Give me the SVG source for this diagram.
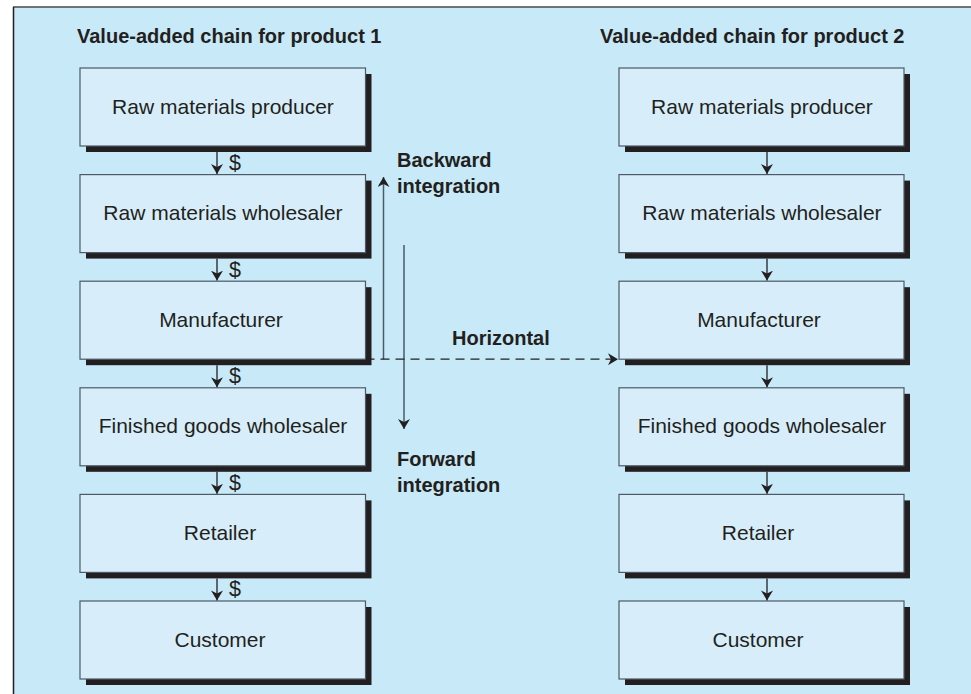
<svg xmlns="http://www.w3.org/2000/svg" width="971" height="694" viewBox="0 0 971 694">
<style>
.panel{fill:#c7e9f8}
.shadow{fill:#231f20}
.box{fill:#d7eefa;stroke:#4b5a64;stroke-width:1.2}
.lbl{font-family:"Liberation Sans",Arial,sans-serif;font-size:21px;fill:#231f20;text-anchor:middle}
.ttl{font-family:"Liberation Sans",Arial,sans-serif;font-size:20px;font-weight:bold;fill:#231f20}
.dol{font-family:"Liberation Sans",Arial,sans-serif;font-size:21.5px;fill:#231f20}
.flow{stroke:#231f20;stroke-width:1.3;fill:none}
.integ{stroke:#4b5a64;stroke-width:1.5;fill:none}
</style>
<defs>
<marker id="ah" viewBox="0 0 10 12" refX="10" refY="6" markerWidth="10" markerHeight="12" markerUnits="userSpaceOnUse" orient="auto">
<path d="M0,0 L10,6 L0,12 L3,6 Z" fill="#231f20"/>
</marker>
</defs>
<rect x="0" y="0" width="971" height="694" fill="#ffffff"/>
<rect class="panel" x="13" y="7" width="958" height="687"/>
<line x1="13" y1="7" x2="971" y2="7" stroke="#4a4a4a" stroke-width="1.5"/>
<line x1="13.5" y1="7" x2="13.5" y2="694" stroke="#231f20" stroke-width="1.5"/>

<text class="ttl" x="77" y="43">Value-added chain for product 1</text>
<text class="ttl" x="600" y="43">Value-added chain for product 2</text>

<g id="l1"><rect class="shadow" x="86" y="74" width="285.5" height="78"/><rect class="box" x="80" y="68" width="285.5" height="78"/><text class="lbl" x="223" y="113.5">Raw materials producer</text></g>
<g id="l2"><rect class="shadow" x="86" y="180.6" width="285.5" height="78"/><rect class="box" x="80" y="174.6" width="285.5" height="78"/><text class="lbl" x="223" y="220.1">Raw materials wholesaler</text></g>
<g id="l3"><rect class="shadow" x="86" y="287.2" width="285.5" height="78"/><rect class="box" x="80" y="281.2" width="285.5" height="78"/><text class="lbl" x="221" y="326.7">Manufacturer</text></g>
<g id="l4"><rect class="shadow" x="86" y="393.8" width="285.5" height="78"/><rect class="box" x="80" y="387.8" width="285.5" height="78"/><text class="lbl" x="223" y="433.3">Finished goods wholesaler</text></g>
<g id="l5"><rect class="shadow" x="86" y="500.4" width="285.5" height="78"/><rect class="box" x="80" y="494.4" width="285.5" height="78"/><text class="lbl" x="220" y="539.9">Retailer</text></g>
<g id="l6"><rect class="shadow" x="86" y="607" width="285.5" height="78"/><rect class="box" x="80" y="601" width="285.5" height="78"/><text class="lbl" x="220" y="646.5">Customer</text></g>

<g id="r1"><rect class="shadow" x="625" y="74" width="285" height="78"/><rect class="box" x="619" y="68" width="285" height="78"/><text class="lbl" x="762" y="113.5">Raw materials producer</text></g>
<g id="r2"><rect class="shadow" x="625" y="180.6" width="285" height="78"/><rect class="box" x="619" y="174.6" width="285" height="78"/><text class="lbl" x="762" y="220.1">Raw materials wholesaler</text></g>
<g id="r3"><rect class="shadow" x="625" y="287.2" width="285" height="78"/><rect class="box" x="619" y="281.2" width="285" height="78"/><text class="lbl" x="759" y="326.7">Manufacturer</text></g>
<g id="r4"><rect class="shadow" x="625" y="393.8" width="285" height="78"/><rect class="box" x="619" y="387.8" width="285" height="78"/><text class="lbl" x="762" y="433.3">Finished goods wholesaler</text></g>
<g id="r5"><rect class="shadow" x="625" y="500.4" width="285" height="78"/><rect class="box" x="619" y="494.4" width="285" height="78"/><text class="lbl" x="758" y="539.9">Retailer</text></g>
<g id="r6"><rect class="shadow" x="625" y="607" width="285" height="78"/><rect class="box" x="619" y="601" width="285" height="78"/><text class="lbl" x="758" y="646.5">Customer</text></g>

<g id="connectors">
<line class="flow" x1="217" y1="152" x2="217" y2="174" marker-end="url(#ah)"/>
<line class="flow" x1="217" y1="258.6" x2="217" y2="280.6" marker-end="url(#ah)"/>
<line class="flow" x1="217" y1="365.2" x2="217" y2="387.2" marker-end="url(#ah)"/>
<line class="flow" x1="217" y1="471.8" x2="217" y2="493.8" marker-end="url(#ah)"/>
<line class="flow" x1="217" y1="578.4" x2="217" y2="600.4" marker-end="url(#ah)"/>
<line class="flow" x1="767" y1="152" x2="767" y2="174" marker-end="url(#ah)"/>
<line class="flow" x1="767" y1="258.6" x2="767" y2="280.6" marker-end="url(#ah)"/>
<line class="flow" x1="767" y1="365.2" x2="767" y2="387.2" marker-end="url(#ah)"/>
<line class="flow" x1="767" y1="471.8" x2="767" y2="493.8" marker-end="url(#ah)"/>
<line class="flow" x1="767" y1="578.4" x2="767" y2="600.4" marker-end="url(#ah)"/>
<text class="dol" x="229" y="170">$</text>
<text class="dol" x="229" y="276.6">$</text>
<text class="dol" x="229" y="383.2">$</text>
<text class="dol" x="229" y="489.8">$</text>
<text class="dol" x="229" y="596.4">$</text>
<polyline class="integ" points="383.5,359.2 383.5,177" marker-end="url(#ah)"/>
<line class="integ" x1="404" y1="245" x2="404" y2="429" marker-end="url(#ah)"/>
<line x1="365.5" y1="359.2" x2="618" y2="359.2" stroke="#231f20" stroke-width="1.3" stroke-dasharray="9,6" marker-end="url(#ah)"/>
</g>

<text class="ttl" x="397" y="167">Backward</text>
<text class="ttl" x="397" y="193">integration</text>
<text class="ttl" x="452" y="345">Horizontal</text>
<text class="ttl" x="397" y="466">Forward</text>
<text class="ttl" x="397" y="492">integration</text>
</svg>
